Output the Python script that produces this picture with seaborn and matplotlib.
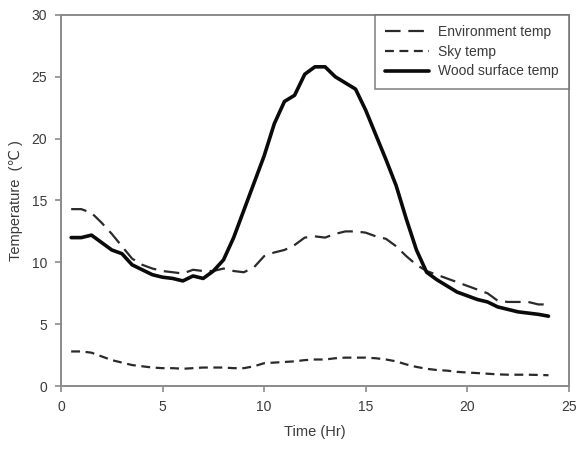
import numpy as np
import pandas as pd
import matplotlib
matplotlib.use("Agg")
import matplotlib.pyplot as plt
import seaborn as sns

# half-hourly readings, 0.5 .. 24 hr
time_hr = [0.5, 1, 1.5, 2, 2.5, 3, 3.5, 4, 4.5, 5, 5.5, 6, 6.5, 7, 7.5, 8,
           8.5, 9, 9.5, 10, 10.5, 11, 11.5, 12, 12.5, 13, 13.5, 14, 14.5, 15,
           15.5, 16, 16.5, 17, 17.5, 18, 18.5, 19, 19.5, 20, 20.5, 21, 21.5,
           22, 22.5, 23, 23.5, 24]

env_temp = [14.3, 14.3, 14.0, 13.2, 12.3, 11.3, 10.3, 9.8, 9.5, 9.3, 9.2, 9.1,
            9.4, 9.3, 9.3, 9.5, 9.3, 9.2, 9.6, 10.5, 10.8, 11.0, 11.4, 12.0,
            12.1, 12.0, 12.3, 12.5, 12.5, 12.4, 12.1, 11.9, 11.3, 10.5, 9.8,
            9.3, 9.0, 8.7, 8.4, 8.1, 7.8, 7.5, 6.9, 6.8, 6.8, 6.8, 6.6, 6.6]

sky_temp = [2.8, 2.8, 2.7, 2.4, 2.1, 1.9, 1.7, 1.6, 1.5, 1.45, 1.45, 1.4,
            1.45, 1.5, 1.5, 1.5, 1.45, 1.45, 1.6, 1.85, 1.9, 1.95, 2.0, 2.1,
            2.15, 2.15, 2.25, 2.3, 2.3, 2.3, 2.25, 2.15, 2.0, 1.75, 1.55, 1.4,
            1.3, 1.25, 1.15, 1.1, 1.05, 1.0, 0.95, 0.92, 0.92, 0.92, 0.9, 0.88]

wood_temp = [12.0, 12.0, 12.2, 11.6, 11.0, 10.7, 9.8, 9.4, 9.0, 8.8, 8.7, 8.5,
             8.9, 8.7, 9.3, 10.2, 12.0, 14.2, 16.4, 18.6, 21.2, 23.0, 23.5,
             25.2, 25.8, 25.8, 25.0, 24.5, 24.0, 22.3, 20.3, 18.3, 16.2, 13.5,
             11.0, 9.2, 8.6, 8.1, 7.6, 7.3, 7.0, 6.8, 6.4, 6.2, 6.0, 5.9, 5.8,
             5.65]

df = pd.DataFrame({"time": time_hr, "env": env_temp, "sky": sky_temp, "wood": wood_temp})

sns.set_style("white")
plt.rcParams["font.family"] = ["Liberation Sans", "DejaVu Sans"]

fig, ax = plt.subplots(figsize=(5.81, 4.5), dpi=100)
fig.subplots_adjust(left=0.105, right=0.979, top=0.967, bottom=0.142)

sns.lineplot(data=df, x="time", y="env", ax=ax, color="#2a2a2a", linewidth=1.6,
             linestyle=(0, (7, 3.5)), label="Environment temp")
sns.lineplot(data=df, x="time", y="sky", ax=ax, color="#2a2a2a", linewidth=1.6,
             linestyle=(0, (4, 2.5)), label="Sky temp")
sns.lineplot(data=df, x="time", y="wood", ax=ax, color="#0a0a0a", linewidth=2.6,
             label="Wood surface temp")

ax.set_xlim(0, 25)
ax.set_ylim(0, 30)
ax.set_xticks(range(0, 26, 5))
ax.set_yticks(range(0, 31, 5))

for sp in ax.spines.values():
    sp.set_color("#8a8a8a")
    sp.set_linewidth(1.4)
ax.tick_params(axis="both", direction="out", length=4, width=1.2, color="#8a8a8a",
               labelsize=10, labelcolor="#3a3a3a", left=True, bottom=True, pad=6)

ax.set_xlabel("Time (Hr)", fontsize=10.5, color="#3a3a3a", labelpad=8)
ax.set_ylabel("Temperature  (℃ )", fontsize=10.5, color="#3a3a3a", labelpad=6)

leg = ax.legend(loc="upper right", bbox_to_anchor=(1.0, 1.0), fontsize=10,
                frameon=True, fancybox=False, handlelength=3.2, handletextpad=0.6,
                borderpad=0.75, labelspacing=0.4, borderaxespad=0.0)
leg.get_frame().set_edgecolor("#6a6a6a")
leg.get_frame().set_linewidth(1.2)
for t in leg.get_texts():
    t.set_color("#3a3a3a")

fig.savefig("out.png", dpi=100)
